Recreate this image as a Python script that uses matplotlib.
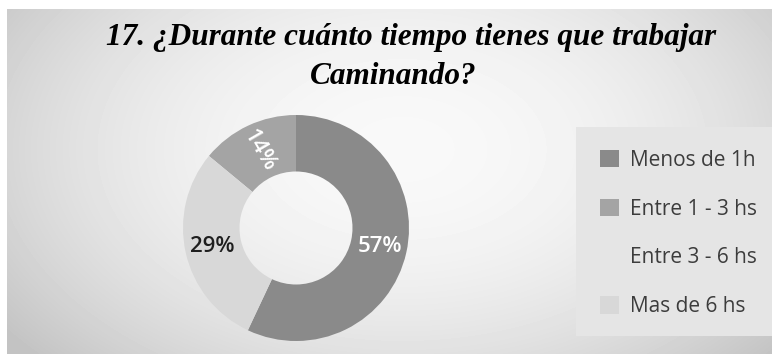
import numpy as np
import matplotlib
matplotlib.use("Agg")
import matplotlib.pyplot as plt
from matplotlib.patches import Rectangle, Patch

# datos de la pregunta 17
categorias = ["Menos de 1h", "Entre 1 - 3 hs", "Entre 3 - 6 hs", "Mas de 6 hs"]
porcentajes = [57, 14, 0, 29]
colores = ["#8a8a8a", "#a4a4a4", "#e5e5e5", "#d8d8d8"]
titulo = ["17. ¿Durante cuánto tiempo tienes que trabajar", "Caminando?"]

W, H = 772, 354
fig = plt.figure(figsize=(W / 100, H / 100), dpi=100)
fig.patch.set_facecolor("white")

# fondo con degradado radial
bg = fig.add_axes([7 / W, 0, 1 - 7 / W, 1 - 9 / H])
yy, xx = np.mgrid[0:H - 9, 0:W - 7]
r2 = ((xx - 395) / 430) ** 2 + ((yy - 140) / 270) ** 2
fondo = 0.975 - 0.16 * np.clip(r2, 0, 1.3)
bg.imshow(fondo, cmap="gray", vmin=0, vmax=1, aspect="auto", interpolation="bilinear")
bg.axis("off")

# panel de la leyenda
fig.patches.append(Rectangle((576 / W, (H - 336) / H), (W - 576) / W, 209 / H,
                             transform=fig.transFigure, facecolor="#e5e5e5",
                             edgecolor="none", zorder=1))

# titulo en dos lineas (la primera lleva un espacio final, queda corrida)
for linea, x, y in zip(titulo, [411, 393], [38, 76]):
    fig.text(x / W, 1 - y / H, linea, ha="center", va="center",
             fontsize=22.5, fontweight="bold", fontstyle="italic",
             family="Liberation Serif")

# dona: centro en (296, 228) px, radio 113 px
cx, cy, rad = 296, 228, 113
ax = fig.add_axes([(cx - rad) / W, (H - cy - rad) / H, 2 * rad / W, 2 * rad / H])
ax.set_zorder(2)
inicio = 90 - 3.6 * porcentajes[0]
wedges, textos, pcts = ax.pie(porcentajes, colors=colores, startangle=inicio,
                              radius=1, pctdistance=0.76,
                              autopct=lambda p: f"{p:.0f}%" if p > 0.5 else "",
                              wedgeprops=dict(width=0.5, edgecolor="none"),
                              textprops=dict(fontsize=16, family="Open Sans",
                                             fontweight="semibold"))
ax.set_aspect("equal")
ax.set_xlim(-1, 1)
ax.set_ylim(-1, 1)

pct_color = {57: "white", 14: "white", 29: "#1e1e1e"}
for w, t, v in zip(wedges, pcts, porcentajes):
    if v == 0:
        continue
    t.set_color(pct_color[v])
    if v == 14:
        ang = (w.theta1 + w.theta2) / 2
        t.set_rotation(ang - 175)
        t.set_rotation_mode("anchor")
        t.set_ha("center")
        t.set_va("center")

handles = [Patch(facecolor=c, edgecolor="none") for c in colores]
leg = fig.legend(handles, categorias, loc="upper left",
                 bbox_to_anchor=(600 / W, 1 - 150 / H), frameon=False,
                 borderaxespad=0, borderpad=0,
                 prop=dict(family="Open Sans", size=15), labelcolor="#3c3c3c",
                 handlelength=0.9, handleheight=0.9, handletextpad=0.53,
                 labelspacing=1.33)
leg.set_zorder(3)

fig.savefig("out.png", dpi=100)
